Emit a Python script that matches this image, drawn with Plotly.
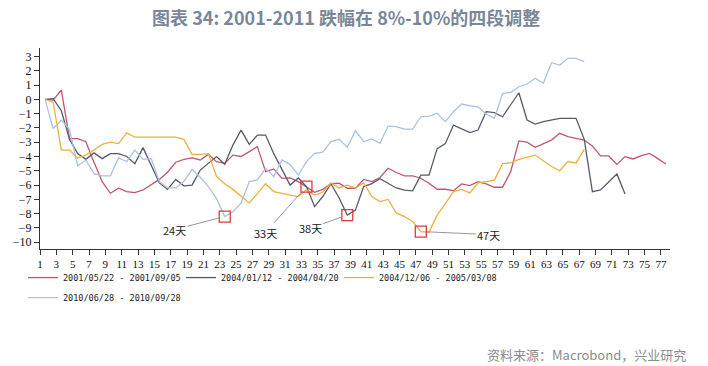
import plotly.graph_objects as go

# ---- data ----
series_names = ["2001/05/22 - 2001/09/05", "2004/01/12 - 2004/04/20",
                "2004/12/06 - 2005/03/08", "2010/06/28 - 2010/09/28"]

s2001 = [0, -0.05, 0.65, -2.75, -2.75, -2.96, -4.4, -5.76, -6.57, -6.22,
         -6.45, -6.52, -6.34, -6.0, -5.6, -5.1, -4.4, -4.2, -4.1, -4.24,
         -3.85, -4.36, -4.48, -3.9, -4.0, -3.66, -3.31, -5.06, -4.87, -5.53,
         -5.5, -5.76, -6.1, -6.5, -6.3, -5.9, -5.87, -6.22, -6.22, -5.6,
         -5.76, -5.47, -4.82, -5.12, -5.35, -5.35, -5.52, -5.87, -6.29, -6.29,
         -6.39, -5.92, -6.04, -5.76, -5.92, -6.15, -6.15, -5.06, -2.91, -3.0,
         -3.36, -3.08, -2.85, -2.38, -2.61, -2.73, -2.85, -3.27, -3.96, -3.96,
         -4.55, -4.01, -4.17, -3.94, -3.78, -4.15, -4.53]

s2004a = [0, 0.05, -0.8, -2.8, -3.8, -4.2, -3.75, -4.15, -3.8, -3.8,
          -4.0, -4.5, -3.38, -4.65, -5.85, -6.3, -5.6, -6.05, -6.0, -4.95,
          -4.45, -4.0, -4.55, -3.2, -2.15, -3.15, -2.5, -2.5, -3.8, -4.94,
          -6.0, -5.5, -6.1, -7.5, -6.8, -5.9, -6.9, -8.1, -7.75, -6.1,
          -5.9, -5.55, -5.9, -6.2, -6.35, -6.4, -5.3, -5.3, -3.45, -3.1,
          -1.8, -2.05, -2.33, -2.15, -0.86, -0.93, -1.22, -0.38, 0.46, -1.45,
          -1.73, -1.56, -1.45, -1.33, -1.33, -1.33, -2.8, -6.46, -6.34, -5.78,
          -5.22, -6.62]

s2004b = [0, -0.2, -3.55, -3.55, -4.1, -3.9, -3.55, -3.15, -3.0, -3.1,
          -2.35, -2.65, -2.65, -2.65, -2.65, -2.65, -2.65, -2.8, -3.85, -3.85,
          -3.8, -5.4, -5.9, -6.3, -6.8, -7.25, -6.6, -5.9, -6.45, -6.6,
          -6.7, -6.8, -6.35, -6.7, -6.5, -5.85, -6.2, -6.0, -6.2, -5.85,
          -6.8, -7.15, -7.0, -7.95, -8.2, -8.55, -9.25, -9.3, -8.1, -7.3,
          -6.45, -6.3, -6.55, -5.85, -5.75, -5.65, -4.5, -4.45, -4.2, -4.05,
          -3.9, -4.3, -4.7, -5.0, -4.35, -4.45, -3.5]

s2010 = [0, -2.05, -1.45, -2.1, -4.65, -4.25, -5.2, -5.35, -5.35, -4.1,
         -4.35, -3.55, -4.2, -4.15, -5.75, -6.2, -6.2, -5.75, -4.9, -5.45,
         -6.1, -6.95, -8.2, -7.86, -7.27, -5.76, -5.64, -4.83, -5.41, -4.24,
         -4.55, -5.3, -4.36, -3.78, -3.7, -2.96, -2.8, -3.35, -2.2, -2.95,
         -2.77, -3.08, -1.87, -1.91, -2.08, -2.08, -1.22, -1.17, -0.98, -1.56,
         -0.87, -0.33, -0.45, -0.52, -1.03, -1.33, 0.4, 0.49, 0.88, 1.07,
         1.47, 1.12, 2.56, 2.4, 2.87, 2.87, 2.63]

series_values = [s2001, s2004a, s2004b, s2010]
series_colors = ["#c25570", "#565b6b", "#f0ae3e", "#abc4dc"]
series_legend = ["legend", "legend", "legend", "legend2"]

# marked points: (series index, day, label)
marks = [(3, 23, "24天"), (0, 33, "33天"), (1, 38, "38天"), (2, 47, "47天")]
mark_offsets = [(-50, 13), (-41, 46), (-37, 13), (68, 3)]

x_tick_labels = [str(v) for v in range(1, 78, 2)]
y_ticks = list(range(-10, 4))

# ---- figure ----
fig = go.Figure()
for name, vals, col, lg in zip(series_names, series_values, series_colors, series_legend):
    fig.add_trace(go.Scatter(
        x=list(range(1, len(vals) + 1)), y=vals, mode="lines", name=name,
        legend=lg, line=dict(color=col, width=1.3)))

mx = [d for (_, d, _) in marks]
my = [series_values[i][d - 1] for (i, d, _) in marks]
fig.add_trace(go.Scatter(
    x=mx, y=my, mode="markers", showlegend=False, hoverinfo="skip",
    marker=dict(symbol="square-open", size=11,
                line=dict(color="#dc3a3f", width=1.3), color="#dc3a3f")))

for (i, d, lab), (ax, ay) in zip(marks, mark_offsets):
    fig.add_annotation(
        x=d, y=series_values[i][d - 1], text=lab, showarrow=True,
        arrowhead=0, arrowwidth=0.9, arrowcolor="#8a8a8a", standoff=6,
        ax=ax, ay=ay, font=dict(family="Noto Sans CJK SC", size=11, color="#222"))

fig.add_annotation(
    text="资料来源：Macrobond，兴业研究", xref="paper", yref="paper",
    x=1.0286, y=-0.527, xanchor="right", yanchor="middle", showarrow=False,
    font=dict(family="Noto Sans CJK SC", size=13, color="#8c8c8c"))

legend_common = dict(orientation="h", xanchor="left", yanchor="top",
                     font=dict(family="DejaVu Sans Mono", size=8.5, color="#222"),
                     entrywidth=113, itemwidth=30, tracegroupgap=0,
                     bgcolor="rgba(0,0,0,0)")

offset = 0.612
fig.update_layout(
    width=708, height=366,
    margin=dict(l=40, r=38, t=48, b=117, autoexpand=False),
    paper_bgcolor="white", plot_bgcolor="white",
    title=dict(text="<b>图表 34: 2001-2011 跌幅在 8%-10%的四段调整</b>",
               x=0.489, xanchor="center", y=0.95, yref="container", yanchor="middle",
               font=dict(family="Noto Sans CJK SC", size=18, color="#7b8799")),
    xaxis=dict(range=[1 - offset, 77.5], tickvals=[int(t) - offset for t in x_tick_labels],
               ticktext=x_tick_labels, showgrid=False, zeroline=False, automargin=False,
               showline=True, linecolor="#333", linewidth=1,
               ticks="outside", ticklen=5, tickcolor="#333",
               tickfont=dict(family="Liberation Serif", size=11, color="#111")),
    yaxis=dict(range=[-10.47, 3.59], tickvals=y_ticks, showgrid=False, zeroline=False,
               automargin=False,
               showline=True, linecolor="#333", linewidth=1,
               ticks="outside", ticklen=5, tickcolor="#333",
               tickfont=dict(family="Liberation Serif", size=12, color="#111")),
    legend=dict(x=-0.027, y=-0.07, **legend_common),
    legend2=dict(x=-0.027, y=-0.17, **legend_common),
    showlegend=True,
)

fig.write_html("out.html", config={"displayModeBar": False},
               post_script="document.body.style.margin='0';")
